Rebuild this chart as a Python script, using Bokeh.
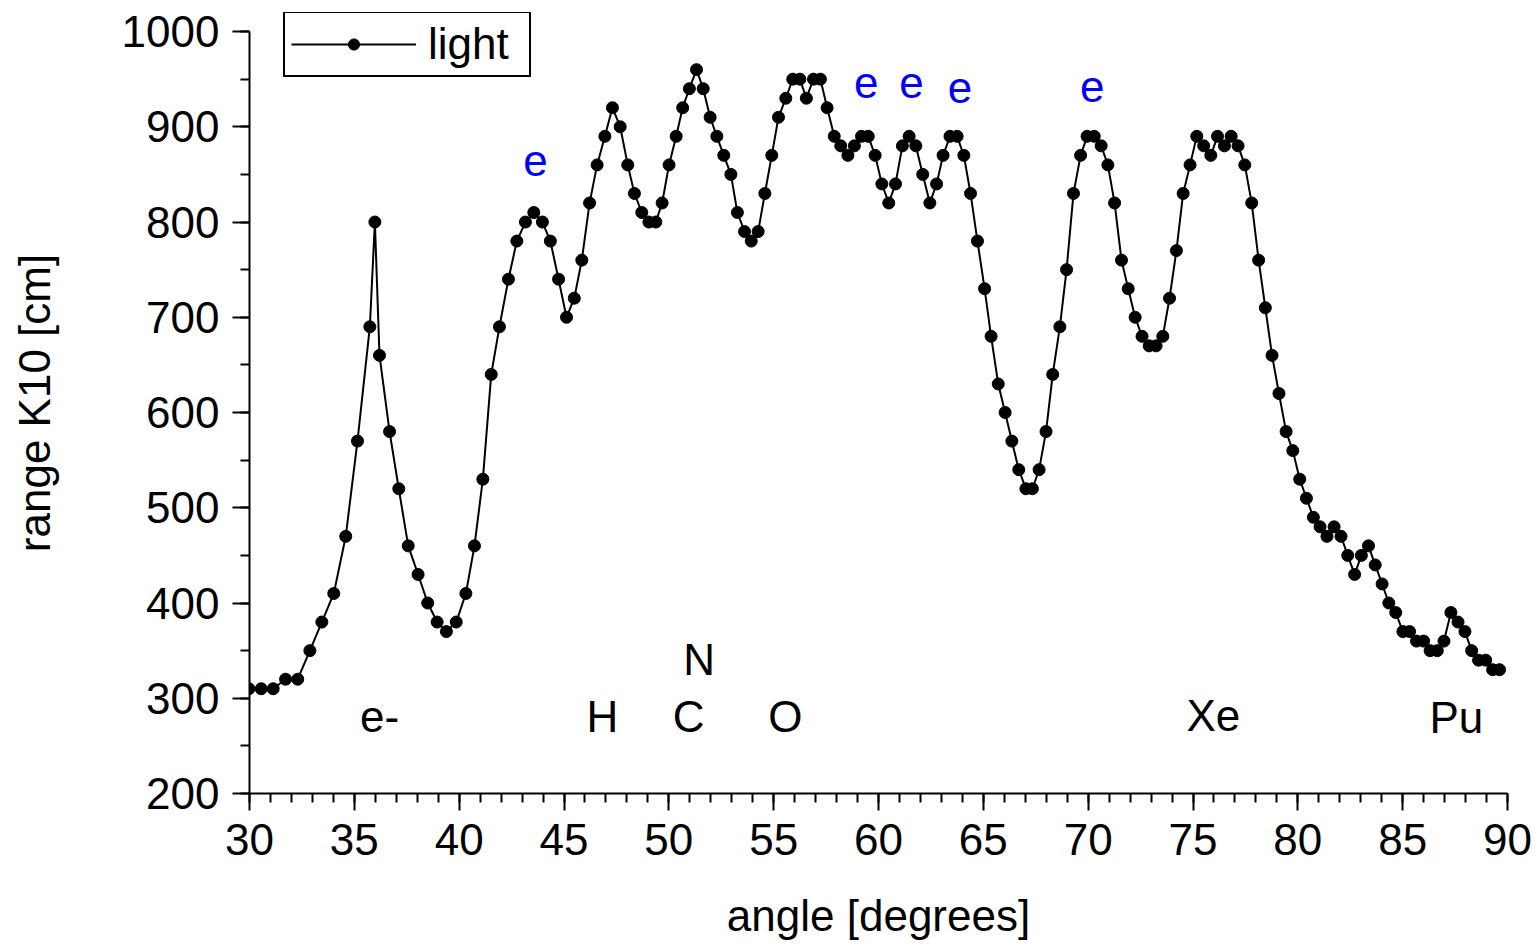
from bokeh.plotting import figure
from bokeh.models import Range1d, FixedTicker, Legend, LegendItem, ColumnDataSource
from bokeh.core.properties import value
from bokeh.embed import file_html
from bokeh.resources import INLINE

# ---- data ----
angle = [29.97, 30.56, 31.13, 31.72, 32.30, 32.88, 33.45, 34.02, 34.59, 35.15,
         35.74, 35.98, 36.20, 36.68, 37.12, 37.57, 38.04, 38.50, 38.95, 39.39,
         39.86, 40.32, 40.73, 41.13, 41.53, 41.92, 42.35, 42.75, 43.16, 43.56,
         43.97, 44.35, 44.74, 45.12, 45.49, 45.85, 46.22, 46.58, 46.95, 47.31,
         47.68, 48.04, 48.36, 48.71, 49.05, 49.38, 49.68, 50.01, 50.35, 50.66,
         50.98, 51.32, 51.64, 51.97, 52.29, 52.62, 52.96, 53.27, 53.61, 53.93,
         54.26, 54.58, 54.91, 55.23, 55.58, 55.91, 56.25, 56.56, 56.90, 57.23,
         57.55, 57.89, 58.20, 58.54, 58.85, 59.19, 59.51, 59.84, 60.16, 60.49,
         60.81, 61.14, 61.46, 61.78, 62.11, 62.45, 62.77, 63.08, 63.41, 63.75,
         64.07, 64.39, 64.72, 65.06, 65.37, 65.71, 66.04, 66.36, 66.69, 67.03,
         67.34, 67.66, 67.99, 68.31, 68.65, 68.97, 69.30, 69.64, 69.95, 70.29,
         70.62, 70.94, 71.26, 71.59, 71.91, 72.24, 72.57, 72.91, 73.24, 73.56,
         73.88, 74.21, 74.53, 74.86, 75.18, 75.51, 75.85, 76.17, 76.50, 76.82,
         77.15, 77.47, 77.80, 78.13, 78.45, 78.77, 79.10, 79.44, 79.76, 80.09,
         80.41, 80.74, 81.06, 81.39, 81.73, 82.06, 82.38, 82.71, 83.03, 83.37,
         83.69, 84.02, 84.34, 84.67, 85.01, 85.33, 85.66, 86.00, 86.31, 86.65,
         86.97, 87.30, 87.64, 87.97, 88.29, 88.62, 88.96, 89.29, 89.62]
range_k10 = [310, 310, 310, 320, 320, 350, 380, 410, 470, 570,
             690, 800, 660, 580, 520, 460, 430, 400, 380, 370,
             380, 410, 460, 530, 640, 690, 740, 780, 800, 810,
             800, 780, 740, 700, 720, 760, 820, 860, 890, 920,
             900, 860, 830, 810, 800, 800, 820, 860, 890, 920,
             940, 960, 940, 910, 890, 870, 850, 810, 790, 780,
             790, 830, 870, 910, 930, 950, 950, 930, 950, 950,
             920, 890, 880, 870, 880, 890, 890, 870, 840, 820,
             840, 880, 890, 880, 850, 820, 840, 870, 890, 890,
             870, 830, 780, 730, 680, 630, 600, 570, 540, 520,
             520, 540, 580, 640, 690, 750, 830, 870, 890, 890,
             880, 860, 820, 760, 730, 700, 680, 670, 670, 680,
             720, 770, 830, 860, 890, 880, 870, 890, 880, 890,
             880, 860, 820, 760, 710, 660, 620, 580, 560, 530,
             510, 490, 480, 470, 480, 470, 450, 430, 450, 460,
             440, 420, 400, 390, 370, 370, 360, 360, 350, 350,
             360, 390, 380, 370, 350, 340, 340, 330, 330]

# particle labels (black) and electron markers (blue)
particle_text = ["e-", "H", "C", "N", "O", "Xe", "Pu"]
particle_x = [36.2, 46.83, 50.94, 51.44, 55.56, 75.97, 87.56]
particle_y = [281, 281, 281, 341, 281, 282, 280]

e_text = ["e", "e", "e", "e", "e"]
e_x = [43.64, 59.41, 61.57, 63.89, 70.2]
e_y = [865, 946, 946, 941, 942]

x_major = [30, 35, 40, 45, 50, 55, 60, 65, 70, 75, 80, 85, 90]
x_minor = list(range(30, 91))
y_major = [200, 300, 400, 500, 600, 700, 800, 900, 1000]
y_minor = list(range(200, 1001, 50))

FONT = "Liberation Sans"
FS = "44px"

p = figure(width=1538, height=946, output_backend="svg", toolbar_location=None,
           x_range=Range1d(30, 90), y_range=Range1d(200, 1020),
           min_border_left=249, min_border_right=31, min_border_top=12,
           min_border_bottom=153)
p.outline_line_color = None
p.xgrid.visible = False
p.ygrid.visible = False
p.background_fill_color = "white"
p.border_fill_color = "white"

src = ColumnDataSource(dict(x=angle, y=range_k10))
ln = p.line("x", "y", source=src, line_color="black", line_width=2)
sc = p.scatter("x", "y", source=src, size=12, fill_color="black", line_color="black")

p.text(x=particle_x, y=particle_y, text=particle_text, text_align="center",
       text_baseline="alphabetic", text_font=value(FONT), text_font_size=FS,
       text_color="black")
p.text(x=e_x, y=e_y, text=e_text, text_align="center",
       text_baseline="alphabetic", text_font=value(FONT), text_font_size=FS,
       text_color="#0000FF")

for ax in (p.xaxis[0], p.yaxis[0]):
    ax.axis_line_width = 2
    ax.major_tick_line_width = 2
    ax.minor_tick_line_width = 2
    ax.major_tick_out = 17
    ax.major_tick_in = 0
    ax.minor_tick_out = 9
    ax.minor_tick_in = 0
    ax.major_label_text_font = FONT
    ax.major_label_text_font_size = FS
    ax.major_label_text_color = "black"
    ax.axis_label_text_font = FONT
    ax.axis_label_text_font_size = FS
    ax.axis_label_text_font_style = "normal"
    ax.axis_label_text_color = "black"

p.yaxis.bounds = (200, 1000)
p.xaxis.ticker = FixedTicker(ticks=x_major, minor_ticks=x_minor)
p.yaxis.ticker = FixedTicker(ticks=y_major, minor_ticks=y_minor)
p.xaxis.axis_label = "angle [degrees]"
p.yaxis.axis_label = "range K10 [cm]"
p.xaxis.major_label_standoff = 13
p.yaxis.major_label_standoff = 13
p.xaxis.axis_label_standoff = 33
p.yaxis.axis_label_standoff = 60

legend = Legend(items=[LegendItem(label="light", renderers=[ln, sc])],
                location=(34, 716), orientation="vertical",
                border_line_color="black", border_line_width=2, border_line_alpha=1.0,
                background_fill_color="white", background_fill_alpha=1.0,
                label_text_font=FONT, label_text_font_size=FS,
                label_text_color="black",
                glyph_width=125, glyph_height=28, label_standoff=12,
                padding=6, margin=0, spacing=0, label_width=95)
p.add_layout(legend, "center")

open("out.html", "w").write(file_html(p, INLINE))
